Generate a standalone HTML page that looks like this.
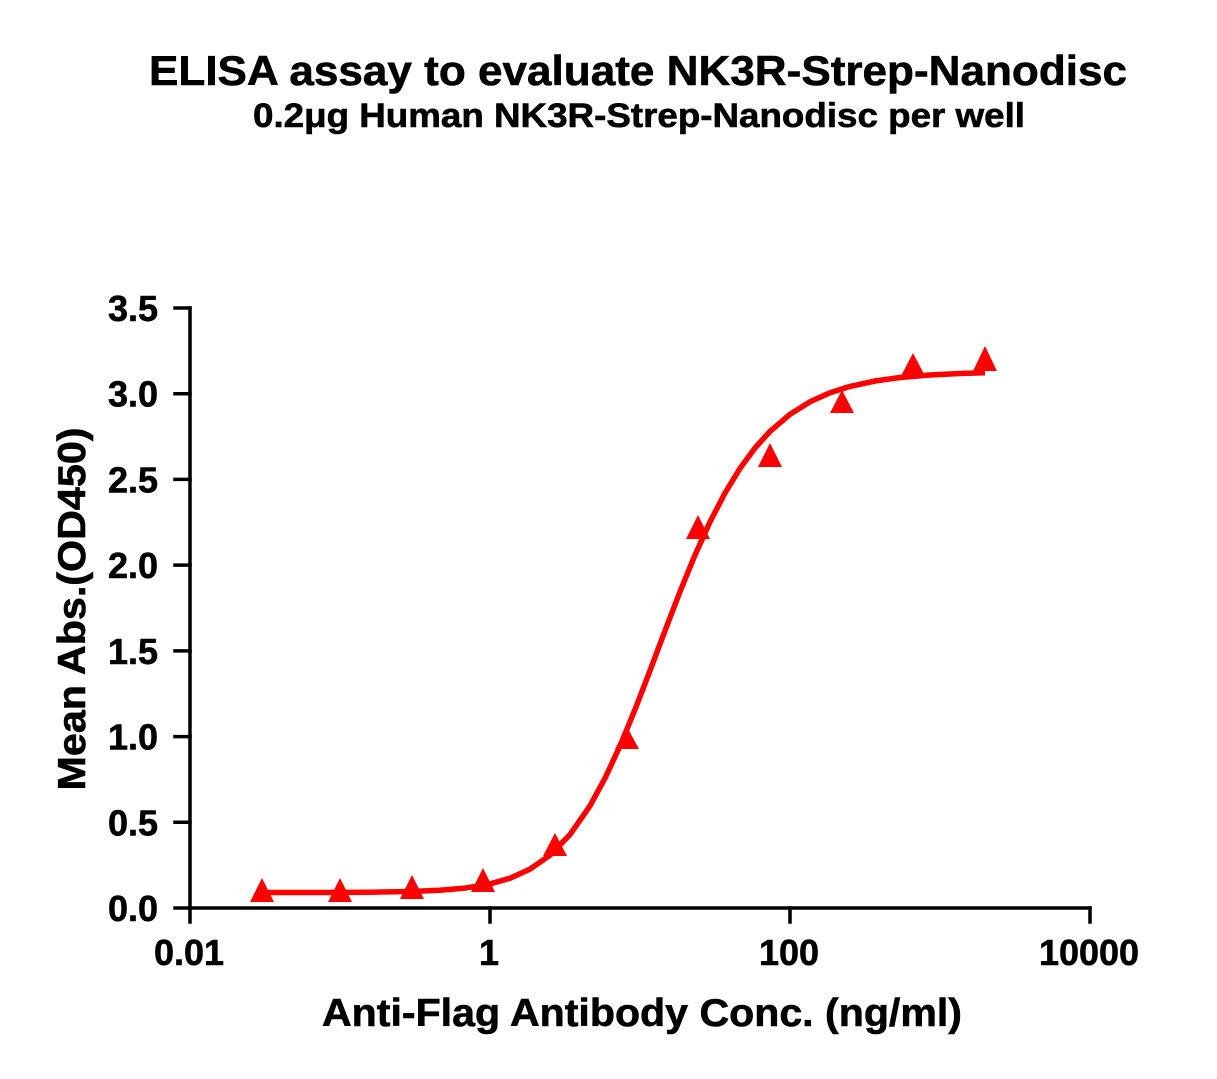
<!DOCTYPE html>
<html>
<head>
<meta charset="utf-8">
<style>
  html, body { margin: 0; padding: 0; background: #ffffff; }
  svg { display: block; }
  text { font-family: "Liberation Sans", Arial, sans-serif; font-weight: bold; fill: #000; stroke: #000; stroke-width: 0.6; }
</style>
</head>
<body>
<svg width="1217" height="1079" viewBox="0 0 1217 1079" xmlns="http://www.w3.org/2000/svg">
  <rect x="0" y="0" width="1217" height="1079" fill="#ffffff"/>

  <!-- Titles -->
  <text x="638" y="85" font-size="42" text-anchor="middle" textLength="978" lengthAdjust="spacingAndGlyphs">ELISA assay to evaluate NK3R-Strep-Nanodisc</text>
  <text x="639" y="127" font-size="34" text-anchor="middle" textLength="772" lengthAdjust="spacingAndGlyphs">0.2μg Human NK3R-Strep-Nanodisc per well</text>

  <!-- Axes -->
  <g stroke="#000" stroke-width="3.5" fill="none" stroke-linecap="square">
    <line x1="190" y1="308" x2="190" y2="908"/>
    <line x1="175" y1="908" x2="1090" y2="908"/>
    <!-- y ticks -->
    <line x1="175" y1="308" x2="190" y2="308"/>
    <line x1="175" y1="393.7" x2="190" y2="393.7"/>
    <line x1="175" y1="479.4" x2="190" y2="479.4"/>
    <line x1="175" y1="565.1" x2="190" y2="565.1"/>
    <line x1="175" y1="650.9" x2="190" y2="650.9"/>
    <line x1="175" y1="736.6" x2="190" y2="736.6"/>
    <line x1="175" y1="822.3" x2="190" y2="822.3"/>
    <!-- x ticks -->
    <line x1="190" y1="908" x2="190" y2="922"/>
    <line x1="490" y1="908" x2="490" y2="922"/>
    <line x1="790" y1="908" x2="790" y2="922"/>
    <line x1="1090" y1="908" x2="1090" y2="922"/>
  </g>

  <!-- Y tick labels -->
  <g font-size="36" text-anchor="end">
    <text x="158" y="321">3.5</text>
    <text x="158" y="406.7">3.0</text>
    <text x="158" y="492.4">2.5</text>
    <text x="158" y="578.1">2.0</text>
    <text x="158" y="663.9">1.5</text>
    <text x="158" y="749.6">1.0</text>
    <text x="158" y="835.3">0.5</text>
    <text x="158" y="921">0.0</text>
  </g>

  <!-- X tick labels -->
  <g font-size="36" text-anchor="middle">
    <text x="189" y="965">0.01</text>
    <text x="489" y="965">1</text>
    <text x="789" y="965">100</text>
    <text x="1089" y="965">10000</text>
  </g>

  <!-- Axis titles -->
  <text x="642" y="1026" font-size="39" text-anchor="middle" textLength="640" lengthAdjust="spacingAndGlyphs">Anti-Flag Antibody Conc. (ng/ml)</text>
  <text transform="translate(85,609) rotate(-90)" x="0" y="0" font-size="39" text-anchor="middle" textLength="363" lengthAdjust="spacingAndGlyphs">Mean Abs.(OD450)</text>

  <!-- Fitted curve (5PL) -->
  <polyline fill="none" stroke="#ff0000" stroke-width="5.5" stroke-linejoin="round" stroke-linecap="butt"
    points="262,892.55 320,892.48 370,892.22 410,891.54 440,890.26 465,888.08 490,883.95 510,878.25 530,869.18 550,855.21 570,834.59 590,805.76 605,778.24 620,745.92 635,709.6 650,670.6 665,630.7 680,591.7 695,555.1 710,521.9 725,493.0 740,468.4 755,448.0 770,431.4 790,414.3 810,401.8 830,392.8 850,386.4 875,381.0 900,377.5 930,374.95 960,373.45 985,372.7"/>

  <!-- Data markers -->
  <g fill="#ff0000">
    <polygon points="262,878 250,902 274,902"/>
    <polygon points="340,878 328,902 352,902"/>
    <polygon points="412,875 400,899 424,899"/>
    <polygon points="483,868 471,892 495,892"/>
    <polygon points="555,833 543,856 567,856"/>
    <polygon points="627,727 615,749 639,749"/>
    <polygon points="698,515 686,539 710,539"/>
    <polygon points="770,443 758,467 782,467"/>
    <polygon points="842,390 830,413 854,413"/>
    <polygon points="913,353 901,376 925,376"/>
    <polygon points="985,346 973,371 997,371"/>
  </g>
</svg>
</body>
</html>
